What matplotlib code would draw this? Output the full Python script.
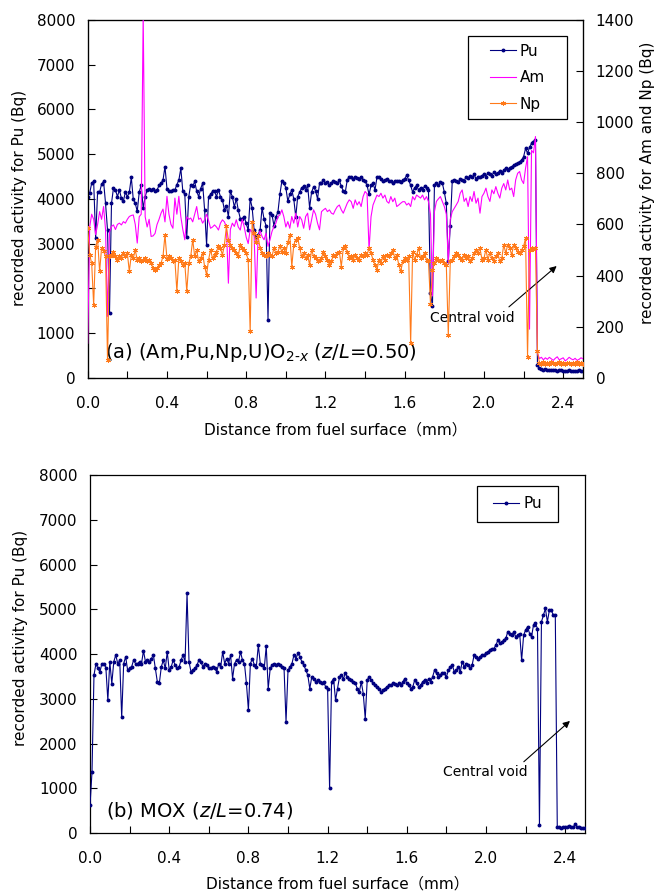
import numpy as np
import matplotlib
matplotlib.use("Agg")
import matplotlib.pyplot as plt
from matplotlib.patches import Rectangle
from matplotlib.lines import Line2D

plt.rcParams['font.family'] = ['DejaVu Sans', 'Noto Sans CJK JP']
plt.rcParams['mathtext.fontset'] = 'dejavusans'

# Sampling interval of the line scans (mm)
step_mm = 0.01

# (a) (Am,Pu,Np,U)O2-x, z/L = 0.50 -- Pu on the left axis (Bq)
pu_a = [
    4050, 4130, 4350, 4390, 3120, 4160, 4150, 4330, 4390, 3900,
    3300, 1450, 3900, 4240, 4200, 4050, 4200, 4010, 3950, 4150,
    4050, 4150, 4480, 3990, 3900, 3720, 4150, 4310, 3790, 4050,
    4200, 4230, 4200, 4230, 4170, 4200, 4300, 4350, 4420, 4720,
    4230, 4170, 4170, 4200, 4200, 4320, 4420, 4680, 4170, 4100,
    3150, 4050, 4320, 4280, 4390, 4170, 4050, 4230, 4350, 3750,
    2970, 4050, 4100, 4170, 4170, 4050, 4200, 4050, 3980, 3750,
    3850, 3600, 4170, 4050, 3820, 4000, 3750, 3560, 3560, 3600,
    3450, 3300, 4000, 3800, 3300, 3150, 3200, 3300, 3800, 3550,
    3400, 1300, 3680, 3650, 3400, 3600, 3700, 4100, 4400, 4350,
    4250, 3950, 4100, 4200, 4000, 3600, 4050, 4150, 4250, 4280,
    4200, 4300, 3800, 4150, 4270, 4180, 4000, 4350, 4350, 4420,
    4350, 4380, 4300, 4350, 4400, 4380, 4350, 4420, 4280, 4180,
    4150, 4420, 4500, 4480, 4450, 4500, 4470, 4450, 4500, 4430,
    4400, 4300, 4100, 4300, 4350, 4200, 4480, 4500, 4450, 4400,
    4420, 4450, 4400, 4400, 4350, 4400, 4400, 4400, 4380, 4420,
    4450, 4530, 4420, 4300, 4150, 4250, 4300, 4200, 4250, 4200,
    4280, 4250, 4200, 1900, 1600, 4300, 4350, 4300, 4380, 4350,
    4150, 3900, 2600, 3400, 4400, 4420, 4400, 4380, 4450, 4420,
    4400, 4500, 4460, 4520, 4480, 4550, 4450, 4500, 4480, 4520,
    4550, 4500, 4580, 4550, 4520, 4600, 4560, 4580, 4620, 4580,
    4650, 4680, 4650, 4700, 4720, 4750, 4780, 4800, 4830, 4870,
    4940, 5130, 5020, 5150, 5240, 5280, 5320, 290, 210, 190,
    180, 190, 170, 175, 180, 165, 170, 160, 165, 170,
    155, 160, 150, 165, 160, 155, 150, 160, 165, 150,
    155,
]

# (a) Am on the right axis (Bq)
am_a = [
    135, 590, 640, 620, 560, 600, 650, 620, 670, 580,
    240, 570, 592, 598, 580, 600, 605, 598, 611, 605,
    620, 631, 635, 637, 600, 527, 630, 640, 1420, 630,
    590, 620, 553, 555, 565, 600, 620, 644, 660, 610,
    710, 640, 600, 585, 703, 640, 710, 630, 580, 540,
    630, 620, 625, 610, 640, 670, 620, 625, 605, 618,
    640, 615, 585, 590, 598, 590, 578, 605, 618, 610,
    590, 370, 580, 605, 592, 618, 590, 578, 620, 590,
    550, 525, 580, 570, 553, 312, 553, 575, 553, 540,
    566, 514, 540, 572, 592, 605, 631, 637, 657, 630,
    590, 611, 585, 631, 605, 644, 590, 631, 618, 585,
    631, 644, 579, 618, 657, 640, 605, 579, 650, 657,
    663, 650, 657, 644, 640, 657, 670, 676, 657, 644,
    663, 683, 696, 689, 663, 696, 676, 689, 670, 709,
    729, 720, 500, 630, 676, 696, 715, 709, 722, 703,
    715, 690, 683, 709, 689, 703, 670, 676, 683, 689,
    689, 676, 683, 670, 709, 696, 715, 709, 703, 715,
    696, 709, 689, 640, 320, 650, 690, 700, 709, 690,
    670, 640, 448, 620, 650, 663, 676, 690, 722, 735,
    690, 703, 670, 709, 690, 729, 683, 703, 644, 709,
    722, 742, 709, 690, 735, 720, 748, 722, 703, 742,
    760, 735, 774, 735, 742, 709, 774, 800, 807, 774,
    760, 820, 865, 190, 890, 880, 944, 96, 75, 80,
    70, 78, 72, 80, 74, 68, 76, 82, 70, 74,
    78, 66, 72, 80, 74, 70, 76, 68, 72, 78,
    74,
]

# (a) Np on the right axis (Bq)
np_a = [
    585, 481, 448, 285, 513, 540, 416, 507, 495, 475,
    70, 475, 480, 494, 475, 460, 475, 468, 490, 475,
    488, 416, 481, 468, 500, 460, 468, 455, 462, 468,
    455, 462, 448, 429, 423, 429, 442, 448, 475, 559,
    465, 475, 468, 455, 462, 338, 468, 455, 442, 448,
    338, 448, 475, 540, 475, 500, 455, 468, 488, 435,
    403, 462, 500, 468, 481, 494, 514, 507, 481, 520,
    592, 540, 520, 507, 500, 488, 475, 520, 507, 500,
    488, 460, 181, 611, 566, 533, 553, 507, 488, 481,
    475, 488, 481, 475, 507, 488, 494, 514, 494, 507,
    488, 530, 559, 435, 520, 540, 546, 507, 475, 488,
    468, 481, 442, 501, 475, 468, 455, 462, 468, 494,
    475, 462, 442, 455, 481, 475, 488, 494, 435, 507,
    514, 494, 468, 475, 462, 481, 468, 462, 481, 475,
    488, 481, 507, 488, 462, 442, 422, 462, 448, 475,
    462, 481, 475, 488, 501, 468, 481, 442, 416, 455,
    468, 462, 475, 136, 494, 462, 481, 507, 468, 475,
    488, 462, 455, 290, 420, 448, 468, 462, 455, 462,
    448, 440, 168, 455, 462, 475, 488, 481, 468, 462,
    481, 468, 475, 455, 468, 488, 501, 488, 507, 462,
    468, 501, 462, 488, 468, 455, 475, 488, 455, 468,
    520, 488, 520, 507, 481, 520, 507, 494, 488, 501,
    514, 546, 83, 501, 507, 503, 507, 103, 58, 55,
    60, 52, 57, 54, 60, 56, 52, 58, 61, 54,
    57, 53, 59, 56, 52, 58, 55, 60, 54, 57,
    55,
]

# (b) MOX, z/L = 0.74 -- Pu (Bq)
pu_b = [
    625, 1370, 3530, 3790, 3680, 3600, 3790, 3790, 3700, 2970,
    3830, 3340, 3830, 3980, 3790, 3865, 2585, 3790, 3940, 3640,
    3680, 3715, 3865, 3790, 3790, 3830, 3790, 4075, 3830, 3865,
    3830, 3900, 3980, 3680, 3380, 3345, 3715, 3865, 3680, 4050,
    3640, 3715, 3865, 3755, 3680, 3715, 3865, 3980, 3830, 5355,
    3830, 3605, 3640, 3680, 3755, 3865, 3830, 3715, 3790, 3755,
    3680, 3680, 3715, 3680, 3605, 3790, 3715, 4050, 3790, 3900,
    3790, 3980, 3455, 3790, 3865, 3830, 4050, 3865, 3790, 3345,
    2750, 3790, 3900, 3755, 3715, 4200, 3790, 3755, 3680, 4180,
    3230, 3680, 3755, 3790, 3755, 3790, 3755, 3715, 3680, 2490,
    3640, 3715, 3790, 3980, 3900, 4015, 3940, 3830, 3755, 3640,
    3530, 3230, 3490, 3455, 3380, 3420, 3380, 3345, 3380, 3270,
    3230, 1000, 3380, 3455, 2970, 3230, 3490, 3530, 3455, 3570,
    3490, 3455, 3420, 3380, 3345, 3230, 3150, 3380, 3120, 2560,
    3420, 3490, 3420, 3345, 3305, 3270, 3230, 3150, 3190, 3230,
    3270, 3305, 3305, 3345, 3330, 3305, 3345, 3305, 3380, 3455,
    3345, 3305, 3230, 3270, 3420, 3345, 3270, 3305, 3380, 3420,
    3345, 3455, 3380, 3490, 3640, 3570, 3490, 3530, 3570, 3570,
    3490, 3640, 3715, 3755, 3600, 3640, 3715, 3605, 3830, 3715,
    3790, 3755, 3680, 3755, 3980, 3940, 3900, 3940, 3980, 3980,
    4015, 4050, 4090, 4125, 4125, 4200, 4310, 4240, 4270, 4310,
    4350, 4500, 4460, 4420, 4500, 4390, 4420, 4460, 3865, 4420,
    4540, 4610, 4460, 4390, 4650, 4685, 4570, 180, 4720, 4870,
    5020, 4720, 4980, 4980, 4870, 4870, 140, 130, 120, 140,
    150, 130, 170, 140, 130, 200, 140, 130, 120, 110,
    110,
]

dist_a = np.arange(len(pu_a)) * step_mm
dist_b = np.arange(len(pu_b)) * step_mm

x_major = [0.0, 0.4, 0.8, 1.2, 1.6, 2.0, 2.4]
x_major_labels = ['0.0', '0.4', '0.8', '1.2', '1.6', '2.0', '2.4']
x_minor = [0.2, 0.6, 1.0, 1.4, 1.8, 2.2]
pu_ticks = [0, 1000, 2000, 3000, 4000, 5000, 6000, 7000, 8000]
amnp_ticks = [0, 200, 400, 600, 800, 1000, 1200, 1400]

NAVY = '#000080'
MAGENTA = '#FF00FF'
ORANGE = '#FF7A1A'
TICK_FS = 11
LABEL_FS = 11
XLABEL = 'Distance from fuel surface（mm）'
YLABEL_PU = 'recorded activity for Pu (Bq)'
PU_STYLE = dict(color=NAVY, lw=0.8, marker='o', ms=1.8, mec=NAVY, mfc=NAVY)
NP_STYLE = dict(color=ORANGE, lw=0.8, marker=(6, 2, 0), ms=3.6, mew=0.7)

fig = plt.figure(figsize=(6.59, 8.93), dpi=100)
ax_a = fig.add_axes([0.1331, 0.5770, 0.7516, 0.4006])
ax_b = fig.add_axes([0.1366, 0.0669, 0.7511, 0.4012])


def style_pu_axis(ax, ylabel_y, xlabel_y):
    ax.set_xlim(0, 2.5)
    ax.set_ylim(0, 8000)
    ax.set_xticks(x_major)
    ax.set_xticklabels(x_major_labels)
    ax.set_xticks(x_minor, minor=True)
    ax.set_yticks(pu_ticks)
    ax.tick_params(axis='both', which='both', direction='in', length=5,
                   width=0.8, labelsize=TICK_FS, right=False, top=False)
    ax.tick_params(axis='x', which='both', pad=13)
    ax.tick_params(axis='y', pad=9)
    for s in ax.spines.values():
        s.set_linewidth(0.9)
        s.set_color('black')
    ax.set_xlabel(XLABEL, fontsize=LABEL_FS)
    ax.xaxis.set_label_coords(0.5, xlabel_y)
    ax.xaxis.label.set_va('center')
    ax.set_ylabel(YLABEL_PU, fontsize=LABEL_FS)
    ax.yaxis.set_label_coords(-0.137, ylabel_y)
    ax.yaxis.label.set_va('center')


def legend_box(ax, x0, y0, x1, y1):
    ax.add_patch(Rectangle((x0, y0), x1 - x0, y1 - y0, transform=ax.transAxes,
                           facecolor='white', edgecolor='black', linewidth=0.9,
                           zorder=9, clip_on=False))


# ---------------- panel (a) ----------------
style_pu_axis(ax_a, 0.504, -0.146)
ax_a.plot(dist_a, pu_a, zorder=3, **PU_STYLE)

ax_r = ax_a.twinx()
ax_r.set_ylim(0, 1400)
ax_r.set_yticks(amnp_ticks)
ax_r.tick_params(axis='y', direction='in', length=5, width=0.8,
                 labelsize=TICK_FS, pad=9)
ax_r.plot(dist_a, am_a, color=MAGENTA, lw=0.8, zorder=3)
ax_r.plot(dist_a, np_a, zorder=4, **NP_STYLE)
ax_r.set_ylabel('recorded activity for Am and Np (Bq)', fontsize=LABEL_FS,
                rotation=90)
ax_r.yaxis.set_label_coords(1.131, 0.545)
ax_r.yaxis.label.set_va('center')

ax_a.text(0.034, 0.07,
          r'(a) (Am,Pu,Np,U)O$_{2\mathsf{\text{-}}x}$ ($z/L$=0.50)',
          transform=ax_a.transAxes, fontsize=14, ha='left', va='center',
          zorder=6)

ax_r.annotate('Central void', xy=(2.367, 2498 / 8000 * 1400),
              xytext=(1.942, 1346 / 8000 * 1400), fontsize=10,
              ha='center', va='center',
              arrowprops=dict(arrowstyle='-|>', color='black', lw=0.8,
                              mutation_scale=10, shrinkA=1, shrinkB=0,
                              relpos=(0.88, 1.0)))

legend_box(ax_r, 0.767, 0.723, 0.967, 0.955)
handles_a = [
    Line2D([], [], **PU_STYLE),
    Line2D([], [], color=MAGENTA, lw=0.8),
    Line2D([], [], **NP_STYLE),
]
leg_a = ax_r.legend(handles_a, ['Pu', 'Am', 'Np'], loc='center',
                    bbox_to_anchor=(0.867, 0.839), frameon=False,
                    fontsize=11, handlelength=1.7, handletextpad=0.25,
                    labelspacing=0.75, borderpad=0, numpoints=1)
leg_a.set_zorder(10)

# ---------------- panel (b) ----------------
style_pu_axis(ax_b, 0.545, -0.141)
ax_b.yaxis.set_label_coords(-0.141, 0.545)
ax_b.plot(dist_b, pu_b, zorder=3, **PU_STYLE)
ax_b.text(0.032, 0.064, r'(b) MOX ($z/L$=0.74)', transform=ax_b.transAxes,
          fontsize=14, ha='left', va='center')
ax_b.annotate('Central void', xy=(2.424, 2508), xytext=(1.999, 1358),
              fontsize=10, ha='center', va='center',
              arrowprops=dict(arrowstyle='-|>', color='black', lw=0.8,
                              mutation_scale=10, shrinkA=1, shrinkB=0,
                              relpos=(0.9, 1.0)))

legend_box(ax_b, 0.781, 0.870, 0.946, 0.970)
leg_b = ax_b.legend([Line2D([], [], **PU_STYLE)],
                    ['Pu'], loc='center', bbox_to_anchor=(0.864, 0.920),
                    frameon=False, fontsize=11, handlelength=1.7,
                    handletextpad=0.25, borderpad=0, numpoints=1)
leg_b.set_zorder(10)

fig.savefig('out.png', dpi=100)
